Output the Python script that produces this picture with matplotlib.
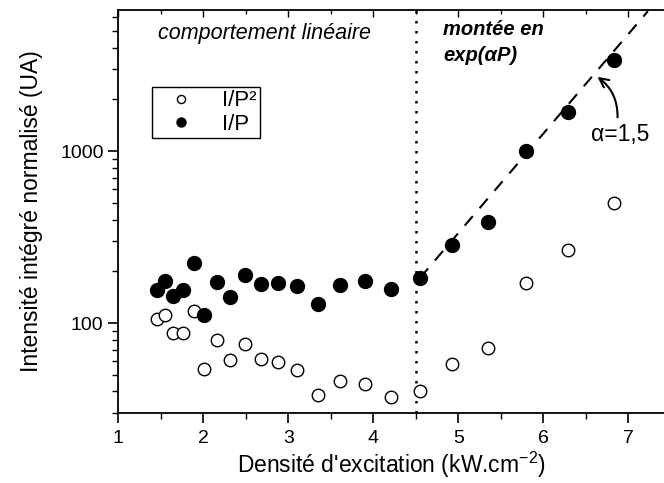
import numpy as np
import matplotlib
matplotlib.use("Agg")
import matplotlib.pyplot as plt

plt.rcParams['font.family'] = ['Liberation Sans', 'DejaVu Sans']
plt.rcParams['mathtext.fontset'] = 'custom'
plt.rcParams['mathtext.rm'] = 'Liberation Sans'
plt.rcParams['mathtext.it'] = 'Liberation Sans:italic'

# excitation density (kW/cm2)
density = [1.46, 1.55, 1.65, 1.76, 1.89, 2.01, 2.16, 2.32, 2.49, 2.68, 2.88,
           3.10, 3.35, 3.61, 3.90, 4.21, 4.55, 4.93, 5.35, 5.80, 6.29, 6.83]
# I/P
i_over_p = [156, 176, 143, 156, 222, 111, 174, 142, 190, 168, 170,
            164, 129, 166, 175, 157, 183, 286, 386, 1000, 1680, 3400]
# I/P^2
i_over_p2 = [106, 112, 87, 87, 118, 54, 80, 61, 76, 62, 59,
             53, 38, 46, 44, 37, 40, 58, 72, 172, 267, 500]

# exponential fit line (dashed)
fit_x = [4.55, 7.23]
fit_y = [183, 6500]
threshold = 4.5

fig = plt.figure(figsize=(6.64, 4.83), dpi=100)
ax = fig.add_axes([0.178, 0.145, 0.822, 0.834])

ax.semilogy(fit_x, fit_y, color='black', ls=(0, (6, 5)), lw=1.5, zorder=2)
ax.axvline(threshold, color='black', ls=(0, (1, 3)), lw=1.8, zorder=1)

ax.plot(density, i_over_p2, 'o', mfc='white', mec='black', mew=1.0, ms=9,
        ls='none', label='I/P²', zorder=3)
ax.plot(density, i_over_p, 'o', mfc='black', mec='black', ms=10,
        ls='none', label='I/P', zorder=3)

ax.set_xlim(1, 7.42)
ax.set_ylim(30, 6600)
ax.set_xticks([1, 2, 3, 4, 5, 6, 7])
ax.set_xticks(np.arange(1.5, 7.5, 1.0), minor=True)
ax.set_yticks([100, 1000])
ax.set_yticklabels(['100', '1000'])

ax.spines['right'].set_visible(False)
ax.spines['top'].set_visible(False)
for s in ['left', 'bottom']:
    ax.spines[s].set_linewidth(1.3)

ax.tick_params(which='major', direction='out', length=7, width=1.2, labelsize=14)
ax.tick_params(which='minor', direction='out', length=4, width=1.0)
ax.tick_params(axis='x', which='major', pad=5)

# top axis with inward ticks
top = ax.secondary_xaxis('top')
top.set_xticks([1, 2, 3, 4, 5, 6, 7])
top.set_xticks(np.arange(1.5, 7.5, 1.0), minor=True)
top.tick_params(which='major', direction='in', length=5, width=1.0, labeltop=False)
top.tick_params(which='minor', direction='in', length=3, width=1.0)
top.spines['top'].set_linewidth(1.3)

ax.set_xlabel("Densité d'excitation (kW.cm$^{-2}$)", fontsize=16.5, labelpad=2)
ax.set_ylabel("Intensité intégré normalisé (UA)", fontsize=16.5, labelpad=12)

ax.text(1.47, 4850, "comportement linéaire", fontsize=15.5, style='italic',
        va='center', ha='left')
ax.text(4.82, 5060, "montée en", fontsize=14.5, style='italic', weight='bold',
        va='center', ha='left')
ax.text(4.82, 3600, "exp(αP)", fontsize=14.5, style='italic', weight='bold',
        va='center', ha='left')

ax.annotate("α=1,5", xy=(6.61, 2760), xytext=(6.56, 1250),
            fontsize=16.5, va='center', ha='left',
            arrowprops=dict(arrowstyle='->', color='black', lw=1.5,
                            connectionstyle='arc3,rad=0.3',
                            relpos=(0.45, 1.0)))

leg = ax.legend(loc='upper left', bbox_to_anchor=(0.062, 0.809),
                borderaxespad=0, fancybox=False, edgecolor='black',
                framealpha=1, fontsize=16, handletextpad=0.7,
                borderpad=0.15, labelspacing=0.1, markerscale=0.65,
                handlelength=2.3)
leg.get_frame().set_linewidth(1.0)

plt.savefig("out.png", dpi=100)
